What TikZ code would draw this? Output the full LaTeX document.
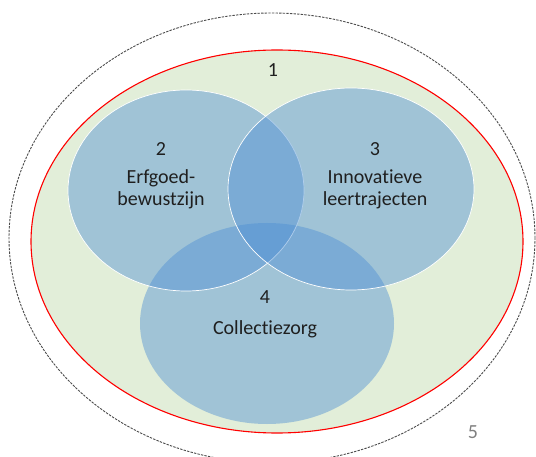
\documentclass[tikz,border=0pt]{standalone}
\usepackage{fontspec}
\setmainfont{Carlito}[Ligatures=NoCommon]
\definecolor{FieldGreen}{RGB}{226, 238, 217}
\definecolor{SetBlue}{RGB}{76, 142, 212}
\definecolor{LabelGray}{RGB}{128, 128, 128}
\usepackage{tikz}
\usetikzlibrary{shapes.geometric}

\begin{document}
\begin{tikzpicture}[x=1pt, y=-1pt,
        field/.style={ellipse, draw=red, line width=1.1pt, fill=FieldGreen, inner sep=0pt},
        outer/.style={ellipse, draw=black!70, line width=0.9pt, dash pattern=on 2.4pt off 1.2pt, inner sep=0pt},
        set/.style={ellipse, fill=SetBlue, fill opacity=0.44, text opacity=1, draw=white, line width=0.7pt, inner sep=0pt},
        lbl/.style={font=\fontsize{20}{21.5}\selectfont, text=black!88, align=center}
    ]
        \useasboundingbox (0, 0) rectangle (536, 457);

        % Outer boundary and field
        \node[outer, minimum width=526pt, minimum height=450pt] (ring) at (272, 238) {};
        \node[field, minimum width=492pt, minimum height=383pt] (field) at (277, 241.5) {};

        % Three sets
        \node[set, draw=none, minimum width=254pt, minimum height=201pt] (zorg) at (267, 323.5) {};
        \node[set, minimum width=236pt, minimum height=201pt] (erfgoed) at (186, 190.5) {};
        \node[set, minimum width=246pt, minimum height=202pt] (leer) at (351, 189) {};

        % Labels
        \node[lbl] (n1) at (273, 70) {1};
        \node[lbl] (n2) at (161, 149) {2};
        \node[lbl] (t2) at (161, 189.5) {Erfgoed-\\bewustzijn};
        \node[lbl] (n3) at (375, 149) {3};
        \node[lbl] (t3) at (375, 189.5) {Innovatieve\\leertrajecten};
        \node[lbl] (n4) at (265, 297) {4};
        \node[lbl] (t4) at (265, 329) {Collectiezorg};
        \node[lbl, text=LabelGray] (n5) at (473, 432) {5};
    \end{tikzpicture}
\end{document}
